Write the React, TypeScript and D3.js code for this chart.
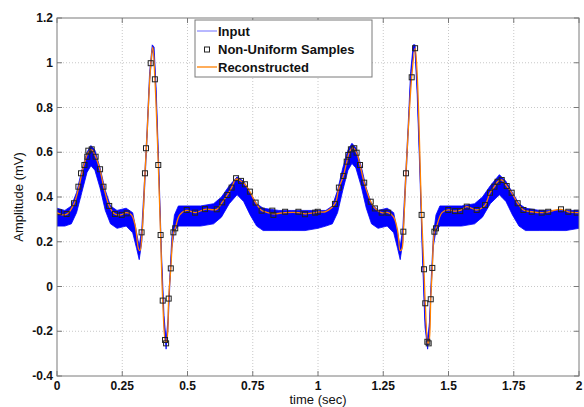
import React from "react";
import * as d3 from "d3";

// Input (noisy) signal envelope: time, lower edge, upper edge
const inputT = [
  0.0, 0.03, 0.055, 0.075, 0.095, 0.115, 0.13, 0.145, 0.165, 0.185, 0.205, 0.23, 0.265, 0.29, 0.305, 0.315, 0.325,
  0.335, 0.345, 0.355, 0.365, 0.372, 0.38, 0.39, 0.4, 0.41, 0.418, 0.425, 0.432, 0.44, 0.45, 0.465, 0.5, 0.55, 0.6,
  0.63, 0.66, 0.69, 0.715, 0.74, 0.765, 0.79, 0.85, 0.9, 0.95,
  1.0, 1.03, 1.055, 1.075, 1.095, 1.115, 1.13, 1.145, 1.165, 1.185, 1.205, 1.23, 1.265, 1.29, 1.305, 1.315, 1.325,
  1.335, 1.345, 1.355, 1.365, 1.372, 1.38, 1.39, 1.4, 1.41, 1.42, 1.427, 1.434, 1.442, 1.452, 1.467, 1.5, 1.55, 1.6,
  1.63, 1.66, 1.695, 1.72, 1.745, 1.77, 1.795, 1.85, 1.9, 1.95, 2.0,
];
const inputLo = [
  0.27, 0.27, 0.28, 0.33, 0.42, 0.51, 0.54, 0.52, 0.44, 0.34, 0.28, 0.26, 0.27, 0.24, 0.17, 0.12, 0.2,
  0.42, 0.66, 0.92, 1.05, 1.04, 0.84, 0.5, 0.12, -0.17, -0.28, -0.19, 0.0, 0.17, 0.25, 0.27, 0.27, 0.27, 0.28,
  0.31, 0.37, 0.41, 0.38, 0.32, 0.27, 0.25, 0.25, 0.25, 0.25,
  0.26, 0.27, 0.28, 0.33, 0.43, 0.52, 0.55, 0.53, 0.45, 0.35, 0.28, 0.26, 0.27, 0.24, 0.17, 0.12, 0.2,
  0.43, 0.67, 0.92, 1.05, 1.05, 0.86, 0.52, 0.14, -0.18, -0.28, -0.2, 0.0, 0.18, 0.25, 0.27, 0.27, 0.27, 0.28,
  0.31, 0.37, 0.41, 0.38, 0.32, 0.27, 0.25, 0.25, 0.25, 0.25, 0.26,
];
const inputHi = [
  0.35, 0.34, 0.36, 0.42, 0.52, 0.6, 0.63, 0.61, 0.53, 0.43, 0.36, 0.34, 0.35, 0.33, 0.24, 0.18, 0.26,
  0.47, 0.7, 0.96, 1.08, 1.07, 0.88, 0.54, 0.16, -0.13, -0.24, -0.15, 0.04, 0.22, 0.32, 0.36, 0.36, 0.36, 0.37,
  0.4, 0.45, 0.49, 0.47, 0.42, 0.37, 0.35, 0.34, 0.34, 0.34,
  0.34, 0.34, 0.36, 0.43, 0.53, 0.61, 0.64, 0.62, 0.54, 0.44, 0.37, 0.34, 0.35, 0.33, 0.24, 0.18, 0.26,
  0.48, 0.71, 0.96, 1.08, 1.08, 0.9, 0.56, 0.18, -0.14, -0.24, -0.16, 0.04, 0.23, 0.32, 0.36, 0.36, 0.36, 0.37,
  0.4, 0.45, 0.5, 0.47, 0.42, 0.37, 0.35, 0.34, 0.34, 0.34, 0.34,
];

// Non-uniform samples
const sampleT = [
  0.008, 0.037, 0.065, 0.082, 0.092, 0.105, 0.116, 0.12, 0.133, 0.148, 0.165, 0.178, 0.2, 0.222, 0.248, 0.267,
  0.324, 0.337, 0.341, 0.359, 0.375, 0.388, 0.397, 0.405, 0.414, 0.418, 0.428, 0.436, 0.446, 0.453, 0.497, 0.529,
  0.567, 0.612, 0.633, 0.653, 0.669, 0.686, 0.705, 0.72, 0.739, 0.761, 0.784, 0.825, 0.829, 0.874, 0.925, 0.95, 0.989,
  0.999, 1.065, 1.08, 1.097, 1.11, 1.116, 1.126, 1.139, 1.148, 1.161, 1.177, 1.202, 1.218, 1.244, 1.269,
  1.327, 1.337, 1.359, 1.372, 1.397, 1.406, 1.411, 1.419, 1.424, 1.432, 1.438, 1.446, 1.452, 1.499, 1.525, 1.545,
  1.57, 1.608, 1.64, 1.659, 1.676, 1.688, 1.704, 1.723, 1.742, 1.765, 1.787, 1.819, 1.857, 1.882, 1.931, 1.959, 1.991,
];
const sampleV = [
  0.332, 0.324, 0.372, 0.446, 0.506, 0.543, 0.58, 0.607, 0.613, 0.58, 0.524, 0.446, 0.36, 0.324, 0.32, 0.327,
  0.242, 0.506, 0.618, 0.998, 0.926, 0.543, 0.23, -0.063, -0.239, -0.254, -0.054, 0.081, 0.242, 0.26, 0.342, 0.33,
  0.346, 0.345, 0.376, 0.409, 0.442, 0.484, 0.472, 0.457, 0.424, 0.375, 0.339, 0.339, 0.32, 0.334, 0.334, 0.323, 0.33,
  0.334, 0.369, 0.442, 0.494, 0.558, 0.588, 0.613, 0.618, 0.598, 0.543, 0.464, 0.379, 0.349, 0.33, 0.33,
  0.245, 0.506, 0.935, 1.065, 0.32, 0.077, -0.075, -0.247, -0.254, -0.057, 0.083, 0.245, 0.26, 0.342, 0.337, 0.337,
  0.357, 0.342, 0.364, 0.419, 0.446, 0.468, 0.476, 0.449, 0.419, 0.372, 0.342, 0.334, 0.33, 0.334, 0.345, 0.334, 0.33,
];

// Reconstructed signal
const reconT = [
  0.0, 0.02, 0.04, 0.065, 0.085, 0.1, 0.12, 0.132, 0.148, 0.165, 0.18, 0.2, 0.22, 0.245, 0.265, 0.285, 0.3, 0.312,
  0.318, 0.326, 0.337, 0.345, 0.359, 0.367, 0.375, 0.388, 0.397, 0.405, 0.416, 0.421, 0.428, 0.436, 0.446, 0.453,
  0.47, 0.497, 0.53, 0.567, 0.612, 0.633, 0.653, 0.669, 0.686, 0.7, 0.72, 0.739, 0.761, 0.784, 0.8, 0.829, 0.874,
  0.925, 0.95, 0.989,
  1.0, 1.03, 1.065, 1.08, 1.097, 1.11, 1.12, 1.134, 1.148, 1.161, 1.177, 1.202, 1.218, 1.244, 1.269, 1.29, 1.305,
  1.315, 1.322, 1.327, 1.337, 1.359, 1.372, 1.38, 1.397, 1.406, 1.411, 1.421, 1.426, 1.432, 1.438, 1.446, 1.452,
  1.475, 1.499, 1.525, 1.545, 1.57, 1.608, 1.64, 1.659, 1.676, 1.688, 1.704, 1.723, 1.742, 1.765, 1.787, 1.819,
  1.857, 1.882, 1.931, 1.959, 1.991, 2.0,
];
const reconV = [
  0.33, 0.32, 0.325, 0.37, 0.45, 0.53, 0.6, 0.612, 0.58, 0.52, 0.44, 0.36, 0.325, 0.32, 0.33, 0.32, 0.27, 0.17,
  0.16, 0.24, 0.5, 0.68, 0.99, 1.07, 0.93, 0.55, 0.23, -0.06, -0.25, -0.24, -0.05, 0.08, 0.24, 0.26,
  0.32, 0.34, 0.33, 0.345, 0.345, 0.376, 0.41, 0.442, 0.48, 0.475, 0.457, 0.424, 0.375, 0.34, 0.333, 0.325, 0.33,
  0.33, 0.325, 0.33,
  0.333, 0.335, 0.37, 0.44, 0.494, 0.556, 0.6, 0.62, 0.598, 0.543, 0.464, 0.379, 0.349, 0.33, 0.33, 0.31, 0.25,
  0.16, 0.17, 0.245, 0.506, 0.935, 1.065, 0.95, 0.32, 0.077, -0.075, -0.255, -0.24, -0.057, 0.083, 0.245, 0.26,
  0.33, 0.342, 0.337, 0.34, 0.357, 0.342, 0.364, 0.419, 0.446, 0.468, 0.476, 0.449, 0.419, 0.372, 0.342, 0.334,
  0.33, 0.334, 0.345, 0.334, 0.33, 0.33,
];

const xTicks = [0, 0.25, 0.5, 0.75, 1, 1.25, 1.5, 1.75, 2];
const xTickLabels = ["0", "0.25", "0.5", "0.75", "1", "1.25", "1.5", "1.75", "2"];
const yTicks = [-0.4, -0.2, 0, 0.2, 0.4, 0.6, 0.8, 1, 1.2];
const yTickLabels = ["-0.4", "-0.2", "0", "0.2", "0.4", "0.6", "0.8", "1", "1.2"];
const legendLabels = ["Input", "Non-Uniform Samples", "Reconstructed"];

const W = 584;
const H = 407;
const L = 57;
const R = 579;
const T = 18;
const B = 376;

export default function App() {
  const x = d3.scaleLinear().domain([0, 2]).range([L, R]);
  const y = d3.scaleLinear().domain([-0.4, 1.2]).range([B, T]);

  const inputData = inputT.map((t, i) => ({ t, lo: inputLo[i], hi: inputHi[i] }));
  const area = d3
    .area<{ t: number; lo: number; hi: number }>()
    .x((d) => x(d.t))
    .y0((d) => y(d.lo))
    .y1((d) => y(d.hi));
  const recon = reconT.map((t, i) => [t, reconV[i]] as [number, number]);
  const line = d3
    .line<[number, number]>()
    .x((d) => x(d[0]))
    .y((d) => y(d[1]))
    .curve(d3.curveCatmullRom.alpha(0.5));

  const font = "Arial, 'Liberation Sans', Helvetica, sans-serif";
  const axisColor = "#7a7a7a";

  return (
    <svg width={W} height={H} style={{ position: "absolute", left: 0, top: 0 }} fontFamily={font}>
      <rect x={0} y={0} width={W} height={H} fill="#fff" />
      <defs>
        <clipPath id="plotclip">
          <rect x={L} y={T} width={R - L} height={B - T} />
        </clipPath>
      </defs>
      {/* grid */}
      {xTicks.slice(1, -1).map((t) => (
        <line key={"gx" + t} x1={x(t)} x2={x(t)} y1={T} y2={B} stroke="#c8c8c8" strokeDasharray="1,2" />
      ))}
      {yTicks.slice(1, -1).map((v) => (
        <line key={"gy" + v} x1={L} x2={R} y1={y(v)} y2={y(v)} stroke="#c8c8c8" strokeDasharray="1,2" />
      ))}
      <g clipPath="url(#plotclip)">
        <path d={area(inputData) || ""} fill="#0000ff" stroke="#0000ff" strokeWidth={1} strokeOpacity={0.8} />
        <path d={line(recon) || ""} fill="none" stroke="#ff8000" strokeWidth={1.3} />
        {sampleT.map((t, i) => (
          <rect
            key={"s" + i}
            x={x(t) - 2.5}
            y={y(sampleV[i]) - 2.5}
            width={5}
            height={5}
            fill="none"
            stroke="#222"
            strokeWidth={1}
          />
        ))}
      </g>
      {/* axes box */}
      <rect x={L} y={T} width={R - L} height={B - T} fill="none" stroke={axisColor} strokeWidth={1} />
      {xTicks.map((t) => (
        <g key={"xt" + t}>
          <line x1={x(t)} x2={x(t)} y1={B} y2={B - 5} stroke={axisColor} />
          <line x1={x(t)} x2={x(t)} y1={T} y2={T + 5} stroke={axisColor} />
        </g>
      ))}
      {yTicks.map((v) => (
        <g key={"yt" + v}>
          <line x1={L} x2={L + 5} y1={y(v)} y2={y(v)} stroke={axisColor} />
          <line x1={R} x2={R - 5} y1={y(v)} y2={y(v)} stroke={axisColor} />
        </g>
      ))}
      {xTicks.map((t, i) => (
        <text key={"xl" + t} x={x(t)} y={B + 14} textAnchor="middle" fontSize={12} fontWeight="bold" fill="#111">
          {xTickLabels[i]}
        </text>
      ))}
      {yTicks.map((v, i) => (
        <text key={"yl" + v} x={L - 4} y={y(v) + 4} textAnchor="end" fontSize={12} fontWeight="bold" fill="#111">
          {yTickLabels[i]}
        </text>
      ))}
      <text x={(L + R) / 2} y={404} textAnchor="middle" fontSize={13} fill="#111">
        time (sec)
      </text>
      <text transform={`translate(23, ${(T + B) / 2}) rotate(-90)`} textAnchor="middle" fontSize={13} fill="#111">
        Amplitude (mV)
      </text>
      {/* legend */}
      <g>
        <rect x={195} y={20} width={177} height={57} fill="#fff" stroke={axisColor} strokeWidth={1} />
        <line x1={197} x2={217} y1={31} y2={31} stroke="#7070ff" strokeWidth={1} />
        <rect x={204.5} y={47} width={5} height={5} fill="none" stroke="#222" strokeWidth={1} />
        <line x1={197} x2={217} y1={67} y2={67} stroke="#ff8000" strokeWidth={1.3} />
        {legendLabels.map((s, i) => (
          <text key={s} x={218} y={36 + i * 18} fontSize={13} fontWeight="bold" fill="#111">
            {s}
          </text>
        ))}
      </g>
    </svg>
  );
}
